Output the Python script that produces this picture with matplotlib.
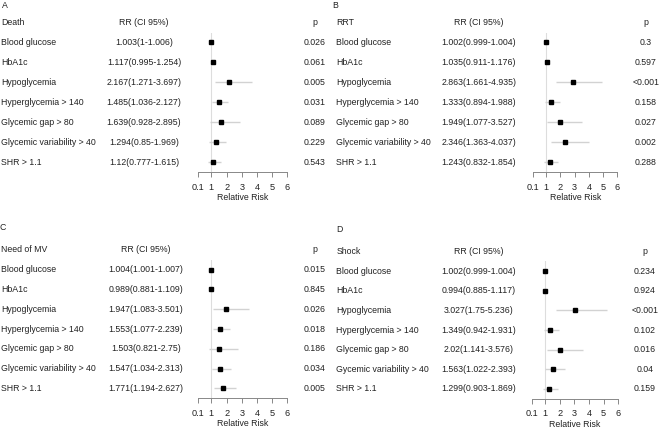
import matplotlib.pyplot as plt
from matplotlib.transforms import blended_transform_factory

plt.rcParams['font.family'] = ['Liberation Sans', 'DejaVu Sans']

names = ["Blood glucose", "HbA1c", "Hypoglycemia", "Hyperglycemia > 140",
         "Glycemic gap > 80", "Glycemic variability > 40", "SHR > 1.1"]
names_d = ["Blood glucose", "HbA1c", "Hypoglycemia", "Hyperglycemia > 140",
           "Glycemic gap > 80", "Gycemic variability > 40", "SHR > 1.1"]

death_rr = [1.003, 1.117, 2.167, 1.485, 1.639, 1.294, 1.12]
death_lo = [1, 0.995, 1.271, 1.036, 0.928, 0.85, 0.777]
death_hi = [1.006, 1.254, 3.697, 2.127, 2.895, 1.969, 1.615]
death_p = ["0.026", "0.061", "0.005", "0.031", "0.089", "0.229", "0.543"]

rrt_rr = [1.002, 1.035, 2.863, 1.333, 1.949, 2.346, 1.243]
rrt_lo = [0.999, 0.911, 1.661, 0.894, 1.077, 1.363, 0.832]
rrt_hi = [1.004, 1.176, 4.935, 1.988, 3.527, 4.037, 1.854]
rrt_p = ["0.3", "0.597", "<0.001", "0.158", "0.027", "0.002", "0.288"]

mv_rr = [1.004, 0.989, 1.947, 1.553, 1.503, 1.547, 1.771]
mv_lo = [1.001, 0.881, 1.083, 1.077, 0.821, 1.034, 1.194]
mv_hi = [1.007, 1.109, 3.501, 2.239, 2.75, 2.313, 2.627]
mv_p = ["0.015", "0.845", "0.026", "0.018", "0.186", "0.034", "0.005"]

shock_rr = [1.002, 0.994, 3.027, 1.349, 2.02, 1.563, 1.299]
shock_lo = [0.999, 0.885, 1.75, 0.942, 1.141, 1.022, 0.903]
shock_hi = [1.004, 1.117, 5.236, 1.931, 3.576, 2.393, 1.869]
shock_p = ["0.234", "0.924", "<0.001", "0.102", "0.016", "0.04", "0.159"]

xticks = [0.1, 1, 2, 3, 4, 5, 6]
xticklabels = ["0.1", "1", "2", "3", "4", "5", "6"]

W, H = 660, 428
fig = plt.figure(figsize=(6.6, 4.28), dpi=100)
FS = 6.3
TXT = '#222222'


def forest(letter, title, labels, rr, lo, hi, p, box, cols, letter_pos):
    # box: (x0, x1, ytop, ybottom) in pixels, cols: (name_x, rr_x, p_x) in pixels
    x0, x1, yt, yb = box
    ax = fig.add_axes([x0 / W, 1 - yb / H, (x1 - x0) / W, (yb - yt) / H])
    rows = list(range(1, len(rr) + 1))
    ax.axvline(1, color='#dddddd', lw=0.8, zorder=1)
    ax.hlines(rows, lo, hi, color='#d2d2d2', lw=1.0, zorder=2)
    ax.plot(rr, rows, 's', color='black', ms=2.6, zorder=3)
    ax.set_xlim(0.1, 6)
    ax.set_ylim(len(rr) + 0.5, 0.5)
    for s in ['top', 'right', 'left']:
        ax.spines[s].set_visible(False)
    ax.spines['bottom'].set_color('#888888')
    ax.spines['bottom'].set_linewidth(0.7)
    ax.set_yticks([])
    ax.set_xticks(xticks)
    ax.set_xticklabels(xticklabels)
    ax.tick_params(axis='x', length=3.5, width=0.7, color='#888888',
                   labelsize=FS + 0.3, pad=4, labelcolor=TXT)
    ax.set_xlabel("Relative Risk", fontsize=FS, labelpad=1, color=TXT)

    tr = blended_transform_factory(fig.transFigure, ax.transData)
    nx, rx, px = cols
    kw = dict(transform=tr, fontsize=FS, color=TXT, va='center')
    fig.text(nx / W, 0, title, ha='left', **kw)
    fig.text(rx / W, 0, "RR (CI 95%)", ha='center', **kw)
    fig.text(px / W, 0, "p", ha='center', **kw)
    for i, r in enumerate(rows):
        fig.text(nx / W, r, labels[i], ha='left', **kw)
        fig.text(rx / W, r, f"{rr[i]:g}({lo[i]:g}-{hi[i]:g})", ha='center', **kw)
        fig.text(px / W, r, p[i], ha='center', **kw)
    fig.text(letter_pos[0] / W, 1 - letter_pos[1] / H, letter,
             fontsize=FS, color=TXT, ha='center', va='center')


forest("A", "Death", names, death_rr, death_lo, death_hi, death_p,
       (197.7, 287.3, 32.5, 172.3), (1, 144, 314.5), (5, 6))
forest("B", "RRT", names, rrt_rr, rrt_lo, rrt_hi, rrt_p,
       (533.3, 617.3, 32.5, 172.3), (336, 479, 646), (335.5, 5))
forest("C", "Need of MV", names, mv_rr, mv_lo, mv_hi, mv_p,
       (197.7, 287.3, 259.8, 398.3), (1, 146, 314.5), (3, 228))
forest("D", "Shock", names_d, shock_rr, shock_lo, shock_hi, shock_p,
       (531.7, 618.3, 261.4, 398.7), (336.5, 479, 645), (339, 229))

fig.savefig("out.png", dpi=100)
